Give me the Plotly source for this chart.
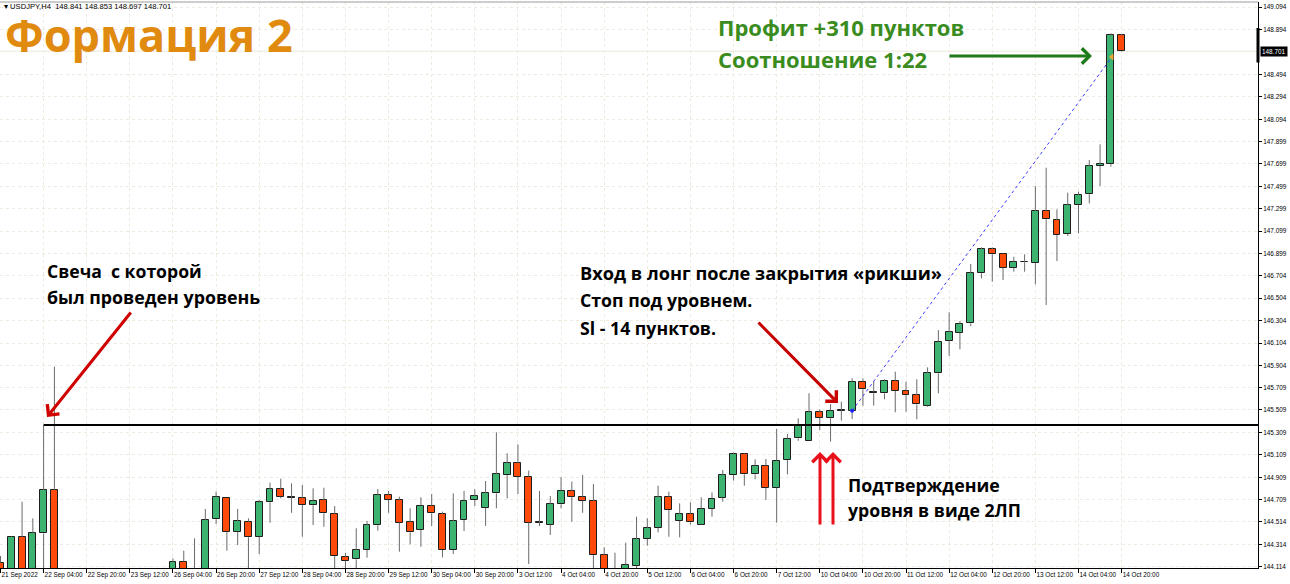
import plotly.graph_objects as go

# ---------------- DATA (USDJPY, H4) ----------------
OPEN = [144.15, 144.00, 144.38, 144.00, 144.41, 144.797, 141.60, 142.30, 142.10, 142.40,
        142.50, 142.80, 143.10, 143.40, 143.30, 143.35, 143.90, 144.159, 144.00, 144.06,
        144.536, 144.728, 144.426, 144.512, 144.381, 144.687, 144.803, 144.728, 144.723, 144.661,
        144.708, 144.583, 144.203, 144.18, 144.263, 144.483, 144.752, 144.708, 144.509, 144.441,
        144.657, 144.58, 144.263, 144.53, 144.708, 144.639, 144.767, 144.93, 145.034, 144.915,
        144.506, 144.489, 144.67, 144.788, 144.737, 144.699, 144.218, 144.06, 143.98, 144.124,
        144.361, 144.461, 144.737, 144.521, 144.583, 144.489, 144.632, 144.73, 144.93, 145.114,
        144.936, 145.013, 144.817, 145.064, 145.256, 145.233, 145.488, 145.435, 145.502, 145.502,
        145.76, 145.666, 145.657, 145.769, 145.68, 145.642, 145.547, 145.835, 146.124, 146.197,
        146.28, 146.725, 146.938, 146.897, 146.775, 146.823, 146.819, 147.279, 147.199, 147.074,
        147.333, 147.428, 147.679, 147.695, 148.841]
HIGH = [144.21, 144.385, 144.693, 144.545, 145.375, 145.894, 142.40, 142.60, 142.50, 142.70,
        142.90, 143.20, 143.50, 143.60, 143.50, 144.00, 144.189, 144.257, 144.367, 144.628,
        144.782, 144.73, 144.628, 144.545, 144.708, 144.862, 144.898, 144.856, 144.841, 144.812,
        144.817, 144.654, 144.239, 144.456, 144.521, 144.806, 144.788, 144.737, 144.634, 144.732,
        144.761, 144.604, 144.767, 144.788, 144.803, 144.877, 145.31, 145.123, 145.203, 144.969,
        144.788, 144.743, 144.91, 144.872, 144.93, 144.85, 144.287, 144.239, 144.328, 144.559,
        144.545, 144.835, 144.782, 144.678, 144.687, 144.732, 144.776, 144.975, 145.132, 145.123,
        145.07, 145.073, 145.34, 145.295, 145.435, 145.657, 145.515, 145.562, 145.582, 145.79,
        145.79, 145.767, 145.782, 145.85, 145.76, 145.782, 145.888, 146.22, 146.378, 146.30,
        146.808, 146.956, 146.956, 146.90, 146.872, 146.894, 147.501, 147.664, 147.294, 147.442,
        147.451, 147.733, 147.872, 148.86, 148.853]
LOW = [143.90, 143.90, 143.95, 143.90, 143.95, 140.35, 141.20, 141.90, 141.90, 142.20,
       142.40, 142.70, 142.90, 143.20, 143.10, 143.30, 143.85, 143.95, 143.90, 143.98,
       144.494, 144.257, 144.307, 144.08, 144.227, 144.506, 144.723, 144.594, 144.381, 144.485,
       144.47, 144.08, 144.10, 144.094, 144.195, 144.435, 144.594, 144.248, 144.314, 144.292,
       144.477, 144.198, 144.227, 144.432, 144.654, 144.477, 144.634, 144.723, 144.761, 144.138,
       144.477, 144.397, 144.634, 144.515, 144.594, 144.08, 143.95, 143.90, 143.90, 144.09,
       144.301, 144.42, 144.381, 144.376, 144.491, 144.485, 144.559, 144.693, 144.88, 144.835,
       144.892, 144.708, 144.506, 144.936, 145.235, 145.233, 145.33, 145.227, 145.414, 145.428,
       145.547, 145.547, 145.604, 145.488, 145.493, 145.426, 145.538, 145.657, 145.989, 146.048,
       146.256, 146.68, 146.65, 146.665, 146.739, 146.739, 146.627, 146.443, 146.834, 147.057,
       147.081, 147.347, 147.501, 147.673, 148.697]
CLOSE = [144.05, 144.379, 144.00, 144.41, 144.797, 141.60, 142.30, 142.10, 142.40, 142.50,
         142.80, 143.10, 143.40, 143.30, 143.35, 143.90, 144.153, 144.00, 144.06, 144.53,
         144.737, 144.426, 144.518, 144.376, 144.687, 144.803, 144.737, 144.728, 144.663, 144.702,
         144.589, 144.209, 144.168, 144.263, 144.483, 144.75, 144.708, 144.506, 144.42, 144.657,
         144.589, 144.263, 144.521, 144.702, 144.743, 144.767, 144.936, 145.034, 144.915, 144.506,
         144.506, 144.67, 144.791, 144.737, 144.702, 144.218, 144.06, 143.98, 144.13, 144.358,
         144.461, 144.732, 144.619, 144.583, 144.509, 144.632, 144.721, 144.93, 145.114, 144.936,
         145.013, 144.817, 145.058, 145.253, 145.369, 145.488, 145.44, 145.502, 145.502, 145.76,
         145.693, 145.657, 145.769, 145.678, 145.642, 145.559, 145.835, 146.116, 146.2, 146.274,
         146.725, 146.938, 146.894, 146.775, 146.823, 146.823, 147.279, 147.205, 147.065, 147.333,
         147.422, 147.679, 147.697, 148.841, 148.701]

TICK_TEXT = ["21 Sep 2022", "22 Sep 04:00", "22 Sep 20:00", "23 Sep 12:00", "26 Sep 04:00",
             "26 Sep 20:00", "27 Sep 12:00", "28 Sep 04:00", "28 Sep 20:00", "29 Sep 12:00",
             "30 Sep 04:00", "30 Sep 20:00", "3 Oct 12:00", "4 Oct 04:00", "4 Oct 20:00",
             "5 Oct 12:00", "6 Oct 04:00", "6 Oct 20:00", "7 Oct 12:00", "10 Oct 04:00",
             "10 Oct 20:00", "11 Oct 12:00", "12 Oct 04:00", "12 Oct 20:00", "13 Oct 12:00",
             "14 Oct 04:00", "14 Oct 20:00"]
TICK_STEP = 4
PRICE_TICKS = [149.094, 148.894, 148.494, 148.294, 148.094, 147.899, 147.699, 147.499,
               147.299, 147.099, 146.899, 146.704, 146.504, 146.304, 146.104, 145.904,
               145.709, 145.509, 145.309, 145.109, 144.909, 144.709, 144.514, 144.314, 144.114]
LEVEL = 145.375          # level drawn from the signal candle
LEVEL_FROM = 4           # index of the signal candle
ENTRY_X, ENTRY_Y = 79, 145.502
EXIT_X, EXIT_Y = 103.1, 148.65
LAST_PRICE = 148.701

# ---------------- FIGURE ----------------
W, H = 1290, 584
ML, MR, MT, MB = 0, 32, 2, 16
PW, PH = W - ML - MR, H - MT - MB
X_RANGE = [-0.046, 116.65]
Y_RANGE = [144.1029, 149.1385]

GREEN, RED = "#3cb371", "#ff4a0a"
AXFONT = dict(family="Liberation Sans", size=6.4, color="black")
n = len(OPEN)
idx = list(range(n))

def px(x):
    return (x - ML) / PW

def py(y):
    return (H - MB - y) / PH

# wicks (upper and lower segments so that bodies stay on top)
wx, wy = [], []
for i in idx:
    top, bot = max(OPEN[i], CLOSE[i]), min(OPEN[i], CLOSE[i])
    wx += [i, i, None, i, i, None]
    wy += [HIGH[i], top, None, bot, LOW[i], None]

fig = go.Figure()
fig.add_trace(go.Bar(
    x=idx,
    base=[min(o, c) for o, c in zip(OPEN, CLOSE)],
    y=[max(abs(c - o), 0.006) for o, c in zip(OPEN, CLOSE)],
    width=0.64,
    marker=dict(color=[GREEN if c > o else (RED if c < o else "#1e1e1e") for o, c in zip(OPEN, CLOSE)],
                line=dict(color="#1e1e1e", width=1)),
    hoverinfo="skip", showlegend=False))
fig.add_trace(go.Scatter(x=wx, y=wy, mode="lines", line=dict(color="#6a6a6a", width=1),
                         hoverinfo="skip", showlegend=False, connectgaps=False))

# trade line (entry -> exit)
fig.add_trace(go.Scatter(x=[ENTRY_X, EXIT_X], y=[ENTRY_Y, EXIT_Y], mode="lines",
                         line=dict(color="#3c3cff", width=1, dash="dot"),
                         hoverinfo="skip", showlegend=False))
fig.add_trace(go.Scatter(x=[ENTRY_X], y=[ENTRY_Y], mode="markers",
                         marker=dict(color="#2020ff", size=4),
                         hoverinfo="skip", showlegend=False))
fig.add_trace(go.Scatter(x=[EXIT_X], y=[EXIT_Y], mode="markers",
                         marker=dict(color="#f0a830", size=6, symbol="triangle-left"),
                         hoverinfo="skip", showlegend=False))

# level line
fig.add_shape(type="line", x0=LEVEL_FROM, x1=X_RANGE[1], y0=LEVEL, y1=LEVEL,
              xref="x", yref="y", line=dict(color="black", width=2))
# bid line
fig.add_shape(type="line", x0=0, x1=1, xref="paper", y0=LAST_PRICE, y1=LAST_PRICE, yref="y",
              line=dict(color="#ebe6dc", width=1), layer="below")
# top border
fig.add_shape(type="line", x0=0, x1=1, xref="paper", y0=1, y1=1, yref="paper",
              line=dict(color="#9a9a9a", width=1))
# thick axis segment near last price
fig.add_shape(type="line", x0=1, x1=1, xref="paper", y0=148.60, y1=148.907, yref="y",
              line=dict(color="black", width=3))

ann = []
def text(x, y, s, size, color="black", family="Open Sans"):
    ann.append(dict(x=px(x), y=py(y), xref="paper", yref="paper", text="<b>" + s + "</b>",
                    showarrow=False, xanchor="left", yanchor="middle",
                    font=dict(family=family, size=size, color=color)))

def arrow(x_head, y_head, x_tail, y_tail, color, width):
    ann.append(dict(x=px(x_head), y=py(y_head), xref="paper", yref="paper", text="",
                    showarrow=True, arrowhead=4, arrowsize=1, arrowwidth=width, arrowcolor=color,
                    ax=x_tail - x_head, ay=y_tail - y_head, axref="pixel", ayref="pixel"))

text(3, 35, "Формация 2", 45, "#e08a0f")
ann.append(dict(x=px(2), y=py(6), xref="paper", yref="paper",
                text="▾ USDJPY,H4  148.841 148.853 148.697 148.701", showarrow=False,
                xanchor="left", yanchor="middle",
                font=dict(family="Liberation Sans", size=7.6, color="black")))
text(716, 27, "Профит +310 пунктов", 22, "#3a8c1f")
text(716, 59, "Соотношение 1:22", 22, "#3a8c1f")
text(45, 271, "Свеча  с которой", 17.6)
text(45, 297, "был проведен уровень", 17.8)
text(578, 273, "Вход в лонг после закрытия «рикши»", 18.2)
text(578, 300, "Стоп под уровнем.", 17.7)
text(578, 328, "Sl - 14 пунктов.", 17.7)
text(846, 485, "Подтверждение", 17.8)
text(846, 510, "уровня в виде 2ЛП", 17.7)

arrow(47, 417, 132, 311, "#d00000", 3)
arrow(838, 403, 757, 321, "#c80000", 3)
arrow(820, 452, 820, 526, "#e8101a", 3)
arrow(833, 452, 833, 526, "#e8101a", 3)
arrow(1092, 56, 948, 56, "#1f7a1a", 3)

# current price box
ann.append(dict(x=1, y=LAST_PRICE, xref="paper", yref="y", text="148.701", showarrow=False,
                xanchor="left", yanchor="middle", xshift=2, bgcolor="black", borderpad=1,
                font=dict(family="Liberation Sans", size=6.4, color="white")))

fig.update_layout(
    width=W, height=H, margin=dict(l=ML, r=MR, t=MT, b=MB, autoexpand=False),
    paper_bgcolor="white", plot_bgcolor="white",
    bargap=0, showlegend=False, annotations=ann,
    xaxis=dict(range=X_RANGE, tickmode="array", automargin=False, tickangle=0,
               tickvals=list(range(0, TICK_STEP * len(TICK_TEXT), TICK_STEP)), ticktext=TICK_TEXT,
               ticks="outside", ticklen=4, tickcolor="black", ticklabelposition="outside right",
               showline=True, linecolor="black", linewidth=1,
               showgrid=True, gridcolor="#efeae0", griddash="dot", zeroline=False,
               tickfont=AXFONT),
    yaxis=dict(range=Y_RANGE, side="right", tickmode="array", tickvals=PRICE_TICKS,
               automargin=False,
               ticktext=[f"{v:.3f}" for v in PRICE_TICKS],
               ticks="outside", ticklen=3, tickcolor="black",
               showline=True, linecolor="black", linewidth=1,
               showgrid=True, gridcolor="#efeae0", griddash="dot", zeroline=False,
               tickfont=AXFONT),
)

fig.write_html("out.html")
